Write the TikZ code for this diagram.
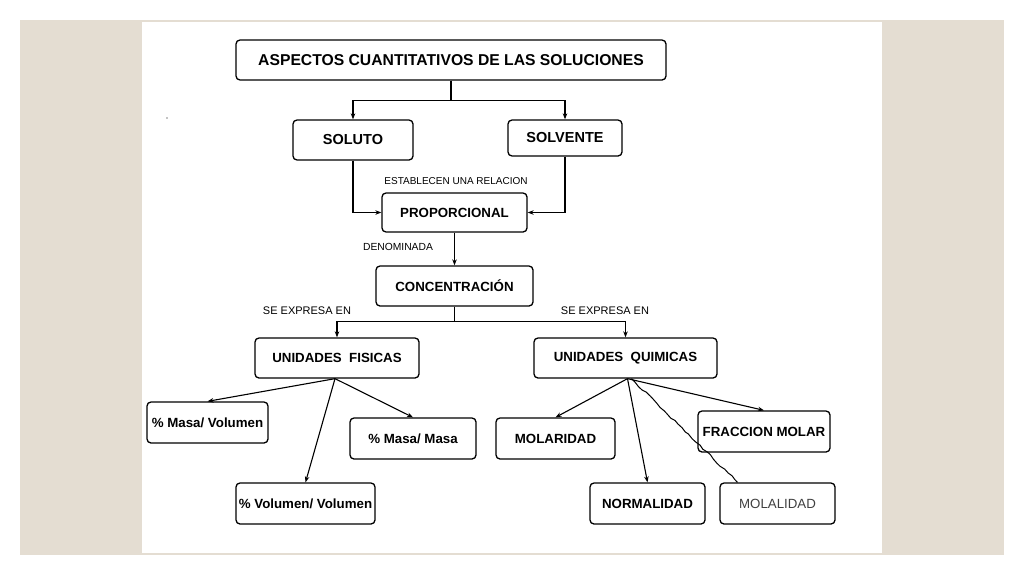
\documentclass[tikz,border=0pt]{standalone}
\usepackage{fontspec}
\setmainfont{Liberation Sans}
\usepackage{xcolor}
\usetikzlibrary{arrows.meta,decorations.pathmorphing}
\definecolor{slidebg}{HTML}{E4DDD2}

\begin{document}
\begin{tikzpicture}[x=1pt, y=-1pt,
    box/.style={draw, rounded corners=4pt, line width=1.3pt, font=\bfseries\fontsize{13.3}{15}\selectfont,
      inner sep=2pt, minimum height=40pt},
    lbl/.style={font=\fontsize{10}{12}\selectfont, inner sep=1pt},
    arr/.style={line width=1.1pt, -{Stealth[length=6pt, width=4.5pt]}}]
  % slide
  \fill[white] (0,0) rectangle (1024,576);
  \fill[slidebg] (20,20) rectangle (1004,555);
  \fill[white] (142,22) rectangle (882,553);
  \fill[black] (167,118) circle (0.7);

  \node[box, minimum width=430pt, font=\bfseries\fontsize{15.7}{18}\selectfont] (title) at (451,60) {ASPECTOS CUANTITATIVOS DE LAS SOLUCIONES};
  \node[box, minimum width=120pt, font=\bfseries\fontsize{14.5}{17}\selectfont] (soluto) at (353,140) {SOLUTO};
  \node[box, minimum width=114pt, minimum height=36pt, font=\bfseries\fontsize{14.5}{17}\selectfont] (solvente) at (565,138) {SOLVENTE};
  \node[box, minimum width=145pt, minimum height=39pt] (prop) at (454.5,212.5) {PROPORCIONAL};
  \node[box, minimum width=157pt] (conc) at (454.5,286) {CONCENTRACIÓN};
  \node[box, minimum width=164pt] (fis) at (337,358) {UNIDADES \ FISICAS};
  \node[box, minimum width=183pt] (quim) at (625.5,358) {UNIDADES \ QUIMICAS};

  % unidades fisicas
  \node[box, minimum width=121pt, minimum height=41pt] (mv) at (207.5,422.5) {\% Masa/ Volumen};
  \node[box, minimum width=126pt, minimum height=41pt] (mm) at (413,438.5) {\% Masa/ Masa};
  \node[box, minimum width=139pt, minimum height=41pt] (vv) at (305.5,503.5) {\% Volumen/ Volumen};

  % unidades quimicas
  \node[box, minimum width=119pt, minimum height=41pt] (molar) at (555.5,438.5) {MOLARIDAD};
  \node[box, minimum width=115pt, minimum height=41pt] (normal) at (647.5,503.5) {NORMALIDAD};
  \node[box, minimum width=115pt, minimum height=41pt, font=\fontsize{13.3}{15}\selectfont, text=black!75] (molal) at (777.5,503.5) {MOLALIDAD};
  \node[box, minimum width=132pt, minimum height=41pt] (fracc) at (764,431.5) {FRACCION MOLAR};

  % labels
  \node[lbl] (rel) at (456,181) {ESTABLECEN UNA RELACION};
  \node[lbl, font=\fontsize{10.3}{12}\selectfont] (denom) at (398,247) {DENOMINADA};
  \node[lbl, font=\fontsize{11}{13}\selectfont] (expf) at (307,311) {SE EXPRESA EN};
  \node[lbl, font=\fontsize{11}{13}\selectfont] (expq) at (605,311) {SE EXPRESA EN};

  % connectors
  \draw[arr] (title.south) -- ++(0,20) -| (soluto.north);
  \draw[arr] (title.south) -- ++(0,20) -| (solvente.north);
  \draw[arr] (soluto.south) |- (prop.west);
  \draw[arr] (solvente.south) |- (prop.east);
  \draw[arr] (prop) -- (conc);
  \draw[arr] (conc.south) -- ++(0,15) -| (fis.north);
  \draw[arr] (conc.south) -- ++(0,15) -| (quim.north);

  \draw[arr] ([xshift=-2pt]fis.south) -- (mv.north);
  \draw[arr] ([xshift=-2pt]fis.south) -- (vv.north);
  \draw[arr] ([xshift=-2pt]fis.south) -- (mm.north);

  \draw[arr] ([xshift=2pt]quim.south) -- (molar.north);
  \draw[arr] ([xshift=2pt]quim.south) -- (normal.north);
  \draw[arr] ([xshift=2pt]quim.south) -- (fracc.north);
  \coordinate (molaltop) at ([xshift=-40pt]molal.north);
  \draw[line width=1pt, decorate, decoration={random steps, segment length=5pt, amplitude=0.9pt}]
    ([xshift=6pt]quim.south) -- (molaltop);
\end{tikzpicture}
\end{document}
